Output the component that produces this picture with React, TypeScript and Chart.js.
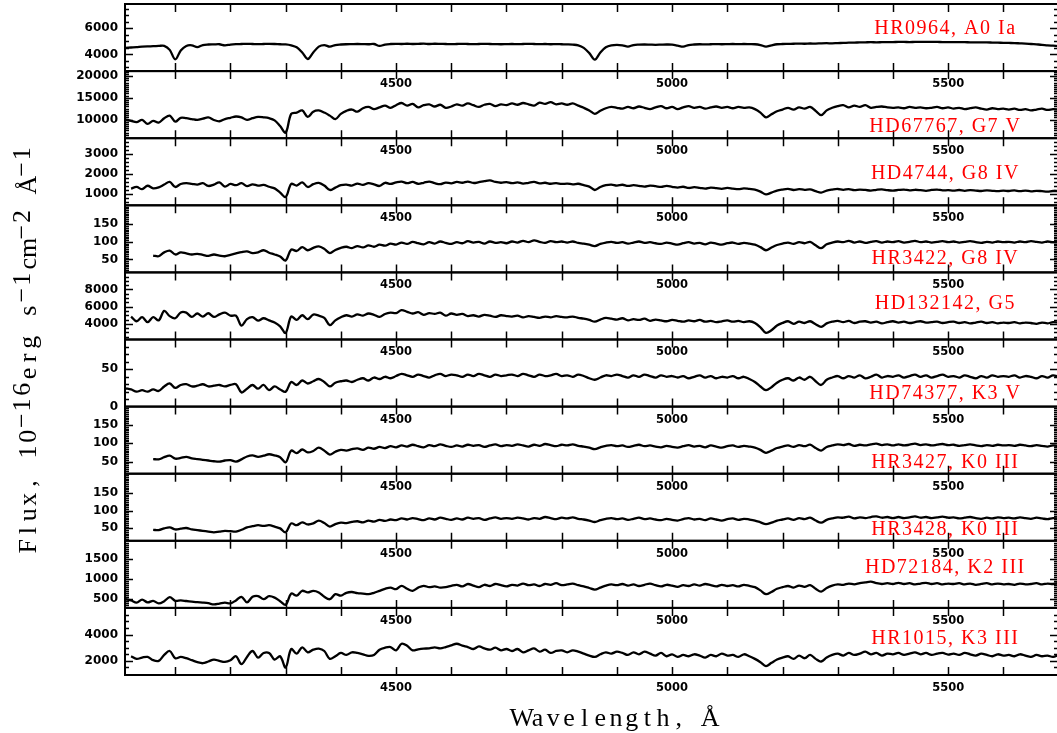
import { useEffect, useRef } from "react";
import { Chart, registerables } from "chart.js";

Chart.register(...registerables);

// Wavelength grid (Å)
const wavelengths = [
  4010, 4020, 4030, 4040, 4050, 4060, 4070, 4080, 4090, 4100,
  4110, 4120, 4130, 4140, 4150, 4160, 4170, 4180, 4190, 4200,
  4210, 4220, 4230, 4240, 4250, 4260, 4270, 4280, 4290, 4300,
  4310, 4320, 4330, 4340, 4350, 4360, 4370, 4380, 4390, 4400,
  4410, 4420, 4430, 4440, 4450, 4460, 4470, 4480, 4490, 4500,
  4510, 4520, 4530, 4540, 4550, 4560, 4570, 4580, 4590, 4600,
  4610, 4620, 4630, 4640, 4650, 4660, 4670, 4680, 4690, 4700,
  4710, 4720, 4730, 4740, 4750, 4760, 4770, 4780, 4790, 4800,
  4810, 4820, 4830, 4840, 4850, 4860, 4870, 4880, 4890, 4900,
  4910, 4920, 4930, 4940, 4950, 4960, 4970, 4980, 4990, 5000,
  5010, 5020, 5030, 5040, 5050, 5060, 5070, 5080, 5090, 5100,
  5110, 5120, 5130, 5140, 5150, 5160, 5170, 5180, 5190, 5200,
  5210, 5220, 5230, 5240, 5250, 5260, 5270, 5280, 5290, 5300,
  5310, 5320, 5330, 5340, 5350, 5360, 5370, 5380, 5390, 5400,
  5410, 5420, 5430, 5440, 5450, 5460, 5470, 5480, 5490, 5500,
  5510, 5520, 5530, 5540, 5550, 5560, 5570, 5580, 5590, 5600,
  5610, 5620, 5630, 5640, 5650, 5660, 5670, 5680, 5690, 5700,
];

const hr0964 = [
  4500, 4530, 4560, 4600, 4620, 4630, 4650, 4660, 4350, 3620,
  4300, 4650, 4700, 4560, 4720, 4760, 4770, 4780, 4700, 4760,
  4790, 4800, 4810, 4800, 4790, 4800, 4810, 4800, 4780, 4770,
  4700, 4550, 4150, 3650, 4150, 4600, 4720, 4600, 4720, 4760,
  4780, 4790, 4800, 4790, 4780, 4800, 4650, 4760, 4800, 4810,
  4800, 4820, 4800, 4810, 4830, 4800, 4820, 4810, 4800, 4790,
  4800, 4810, 4800, 4790, 4800, 4810, 4800, 4790, 4780, 4790,
  4800, 4790, 4800, 4810, 4800, 4790, 4800, 4780, 4790, 4780,
  4770, 4750, 4700, 4500, 4100, 3600, 4150, 4550, 4700, 4740,
  4700, 4600, 4720, 4750, 4760, 4750, 4740, 4750, 4760, 4750,
  4680, 4600, 4720, 4760, 4780, 4770, 4780, 4790, 4780, 4790,
  4800, 4790, 4800, 4790, 4780, 4720, 4600, 4700, 4780, 4800,
  4810, 4820, 4830, 4820, 4840, 4830, 4850, 4860, 4850, 4870,
  4880, 4900, 4910, 4920, 4930, 4940, 4930, 4940, 4950, 4950,
  4960, 4960, 4950, 4960, 4960, 4970, 4960, 4960, 4950, 4950,
  4950, 4940, 4940, 4930, 4930, 4920, 4920, 4910, 4900, 4890,
  4880, 4870, 4850, 4830, 4800, 4770, 4740, 4700, 4670, 4640,
];

const hd67767 = [
  10000, 9700, 9400, 9900, 9000, 9700, 9300, 10300, 10900, 9500,
  10400, 10300, 10100, 9900, 10200, 10500, 9900, 9600, 10100, 10400,
  10700, 10500, 9900, 10300, 10600, 10500, 10300, 9800, 8500, 7000,
  11300, 11600, 12100, 10600, 11800, 12100, 11600, 10900, 10100, 11300,
  12000, 12300, 11800, 12600, 12900, 12400, 12800, 13200, 12700, 13300,
  13800, 13200, 13600, 12800, 13300, 13500, 13000, 13400, 12700, 13000,
  13500, 13200, 13700, 13300, 12900, 13400, 13600, 13100, 13500, 13300,
  13700, 13400, 13800, 13500, 13200, 13900, 13600, 14000, 13500, 13700,
  13400, 13700, 13200, 12700, 12100, 11300, 12000, 12600, 12900, 12700,
  12500, 12900, 12600, 13000, 12700, 12400, 12800, 13100, 12600, 12900,
  12400, 12800, 13100, 12700, 12900, 12500, 12800, 13000, 12700, 12900,
  12600, 12900, 12700, 12800, 12400, 11600, 10500, 11200, 11900, 12300,
  12700, 12300, 12800, 12500, 12900, 12000, 11000, 12100, 12700, 13100,
  13300, 12800, 13200, 12900, 13300, 12700, 12900, 13000, 12800, 12700,
  12800, 12600, 12900, 12700, 12800, 12600, 12700, 12900, 12600, 12800,
  12500, 12700, 12400, 12600, 12800, 12500, 12300, 12600, 12400, 12500,
  12300, 12500, 12200, 12400, 12100, 12300, 12500, 12200, 12400, 12300,
];

const hd4744 = [
  null, 1250, 1330, 1220, 1390, 1260, 1310, 1450, 1580, 1330,
  1480, 1520, 1490, 1450, 1520, 1380, 1450, 1560, 1350, 1480,
  1420, 1520, 1370, 1460, 1400, 1430, 1340, 1260, 1050, 830,
  1480, 1400, 1560, 1330, 1470, 1530, 1400, 1180, 1300, 1420,
  1450, 1400, 1500, 1430, 1520, 1460, 1380, 1540, 1480, 1560,
  1600, 1520, 1580, 1490, 1540, 1600, 1520, 1470, 1550, 1510,
  1580, 1540, 1600, 1530, 1570, 1620, 1660, 1580, 1540, 1570,
  1520, 1560, 1500, 1540, 1580, 1510, 1540, 1490, 1520, 1480,
  1500, 1460, 1490, 1420, 1350, 1180, 1330, 1420, 1450, 1400,
  1440, 1380, 1420, 1390, 1350, 1400, 1370, 1330, 1380, 1340,
  1300, 1340, 1280, 1320, 1290, 1250, 1300, 1270, 1240, 1280,
  1250, 1220, 1260, 1230, 1200, 1100, 960, 1050, 1150, 1200,
  1230, 1180, 1220, 1190, 1210, 1120, 1050, 1150, 1200, 1230,
  1190, 1220, 1170, 1200, 1180, 1150, 1190, 1210, 1170, 1150,
  1180, 1200, 1160, 1190, 1170, 1140, 1180, 1200, 1160, 1170,
  1150, 1180, 1140, 1170, 1150, 1130, 1160, 1140, 1120, 1150,
  1130, 1160, 1120, 1150, 1110, 1140, 1120, 1100, 1130, 1110,
];

const hr3422 = [
  null, null, null, null, null, 61, 59, 70, 75, 64,
  70, 67, 64, 66, 63, 60, 64, 61, 59, 63,
  67, 71, 73, 68, 70, 76, 69, 64, 58, 47,
  78, 74, 85, 76, 83, 87, 80, 68, 77, 83,
  86, 82, 88, 84, 90, 86, 92, 89, 95, 92,
  98, 94, 100, 96, 93, 99, 95, 101, 97, 94,
  99, 96, 102, 98, 100, 95, 101, 97, 99, 96,
  101, 98, 103, 99, 104, 100, 97, 102, 99, 101,
  98, 101, 97, 95, 92, 88, 94, 98, 100, 97,
  99, 95, 98, 101, 97, 99, 96, 94, 98, 95,
  92, 96, 99, 95, 97, 93, 98, 95, 92, 96,
  98, 94, 97, 95, 92, 85, 76, 84, 91, 95,
  98, 94, 99, 96, 100, 90, 82, 93, 98, 101,
  99, 103, 98, 101, 97, 100, 102, 98, 101, 99,
  102, 98, 100, 103, 99, 101, 98, 100, 102, 99,
  101, 98, 100, 102, 99, 97, 100, 98, 101, 99,
  100, 98, 101, 99, 102, 100, 98, 101, 99, 100,
];

const hd132142 = [
  null, 4850, 4300, 4770, 4190, 4770, 4400, 5500, 4900, 4650,
  5330, 5300, 4800, 5200, 4850, 5230, 4800, 5100, 5300, 4950,
  4950, 3800, 4540, 4770, 4380, 4650, 4400, 4150, 3700, 2950,
  4850, 4460, 5000, 4550, 5080, 4950, 4700, 3850, 4400, 4770,
  5000, 4850, 5100, 4950, 5200, 5050, 4800, 5150, 5300, 5250,
  5600, 5400, 5200, 5350, 5050, 5250, 5150, 5300, 4950, 5200,
  5050, 5150, 4900, 5000, 4850, 5050, 4950, 4800, 5000, 4900,
  4850, 4950, 4750, 4900, 4800, 4700, 4850, 4750, 4900, 4800,
  4750, 4850, 4700, 4600, 4450, 4250, 4500, 4700, 4600, 4500,
  4650, 4400, 4550, 4450, 4600, 4350, 4500, 4400, 4300, 4450,
  4350, 4250, 4400, 4300, 4450, 4250, 4350, 4200, 4300, 4400,
  4250, 4350, 4200, 4300, 4100, 3600, 2950, 3250, 3800, 4100,
  4300, 4000, 4250, 4100, 4300, 3950, 3650, 4050, 4250, 4350,
  4200, 4350, 4100, 4250, 4300, 4150, 4250, 4050, 4200, 4300,
  4150, 4250, 4100, 4200, 4300, 4150, 4200, 4250, 4100, 4200,
  4250, 4100, 4200, 4050, 4150, 4250, 4100, 4200, 4050, 4150,
  4100, 4200, 4050, 4150, 4100, 4000, 4150, 4050, 4200, 4150,
];

const hd74377 = [
  24.6, 23, 20, 22, 20, 23, 21, 27, 31, 25,
  29, 30, 27, 28, 30, 27, 28, 29, 27, 29,
  30, 19, 24, 29, 24, 29, 22, 27, 23, 20,
  33, 29, 35, 31, 34, 37, 33, 27, 32, 34,
  35, 33, 36, 38, 35, 39, 37, 40, 38, 41,
  44, 42, 40, 43, 41, 39, 42, 44, 41, 43,
  42, 40, 43, 41, 44, 42, 40, 43, 41, 42,
  43, 41, 44, 42, 40, 43, 41, 42, 44, 41,
  42, 40, 43, 41, 38, 36, 39, 42, 41, 43,
  41, 39, 42, 40, 43, 41, 39, 42, 40, 41,
  39, 41, 38, 40, 42, 39, 41, 38, 40, 39,
  41, 38, 40, 37, 33, 27, 22, 26, 32, 36,
  38, 35, 39, 36, 40, 34, 29, 36, 39, 41,
  38, 41, 39, 42, 38, 40, 43, 39, 41, 40,
  42, 39, 41, 43, 40, 42, 39, 41, 43, 40,
  41, 39, 42, 40, 38, 41, 39, 42, 40, 41,
  40, 42, 39, 41, 40, 38, 41, 39, 42, 40,
];

const hr3427 = [
  null, null, null, null, null, 57, 56, 62, 66, 58,
  60, 63, 59, 57, 55, 53, 51, 50, 53, 54,
  50, 56, 64, 67, 63, 66, 70, 67, 62, 48,
  80, 73, 83, 75, 79, 88, 80, 69, 77, 82,
  80, 84, 86, 82, 88, 85, 90, 87, 92, 89,
  94, 91, 96, 92, 89, 95, 92, 97, 93, 90,
  94, 91, 96, 93, 95, 90, 94, 97, 92, 95,
  93, 97, 94, 91, 96, 93, 98, 95, 92, 96,
  94, 97, 93, 91, 88, 84, 89, 93, 95, 92,
  94, 90, 93, 96, 92, 94, 91, 89, 93, 90,
  88, 92, 95, 91, 93, 89, 94, 91, 88, 92,
  94, 90, 93, 91, 88, 82, 74, 80, 87, 91,
  94, 90, 95, 92, 96, 87, 80, 90, 94, 97,
  95, 98, 93, 96, 94, 97, 99, 95, 97, 94,
  97, 94, 96, 99, 95, 97, 94, 96, 98, 95,
  96, 93, 95, 97, 94, 92, 95, 93, 96, 94,
  95, 93, 96, 94, 92, 95, 93, 91, 94, 92,
];

const hr3428 = [
  null, null, null, null, null, 46, 45, 50, 53, 47,
  49, 51, 47, 45, 43, 41, 39, 41, 43, 42,
  41, 46, 53, 56, 59, 57, 59, 55, 50, 39,
  64, 59, 67, 61, 64, 72, 65, 55, 62, 66,
  65, 68, 70, 67, 72, 69, 74, 71, 75, 73,
  78, 75, 79, 76, 73, 78, 75, 80, 77, 74,
  78, 75, 80, 77, 79, 74, 78, 81, 77, 79,
  77, 80, 78, 75, 79, 77, 82, 79, 76, 80,
  78, 81, 77, 75, 72, 68, 73, 77, 79, 76,
  78, 74, 77, 80, 76, 78, 75, 73, 77, 74,
  72, 76, 79, 75, 77, 73, 78, 75, 72, 76,
  78, 74, 77, 75, 72, 67, 62, 66, 72, 75,
  78, 74, 79, 76, 80, 72, 66, 74, 78, 81,
  80, 83, 78, 81, 79, 82, 84, 80, 82, 79,
  82, 79, 81, 84, 80, 82, 79, 81, 83, 80,
  81, 78, 80, 82, 79, 77, 80, 78, 81, 79,
  80, 78, 81, 79, 77, 80, 78, 76, 79, 77,
];

const hd72184 = [
  500, 470, 415, 490, 420, 460, 395, 450, 550, 460,
  470, 455, 440, 425, 415, 400, 370, 390, 415, 395,
  470, 560, 420, 560, 580, 500, 575, 540, 450, 360,
  640, 590, 710, 670, 710, 670, 560, 500, 625, 590,
  660, 680, 650, 640, 625, 660, 710, 760, 790, 750,
  835, 760, 710, 790, 835, 800, 820, 790, 800, 835,
  860, 820, 880, 840, 800, 860, 830, 880, 850, 820,
  860, 840, 890, 850, 870, 830, 880, 860, 900, 850,
  870, 890, 850, 820, 780, 740, 790, 840, 870, 850,
  880, 840, 870, 830, 860, 890, 850, 820, 860, 840,
  810, 850, 830, 870, 840, 880, 850, 820, 860, 830,
  850, 820, 860, 830, 800, 720, 625, 680, 760, 800,
  830, 790, 840, 810, 850, 760, 690, 780, 840, 870,
  860, 890, 870, 900, 920, 940, 900, 880, 900, 880,
  910, 880, 900, 870, 890, 910, 880, 900, 870, 890,
  880, 900, 870, 890, 860, 880, 900, 870, 890, 870,
  880, 860, 890, 870, 880, 900, 870, 890, 880, 900,
];

const hr1015 = [
  null, 2350, 2150, 2250, 2300, 2050, 2000, 2450, 2750, 2200,
  2300, 2200, 2050, 1900, 1820, 1950, 2100, 2000, 1920, 2050,
  2350, 1750, 2300, 2750, 2250, 2600, 2600, 2100, 2350, 1500,
  2900, 2550, 3030, 2650, 2850, 2930, 2750, 2150, 2350, 2600,
  2450, 2650, 2600, 2500, 2380, 2450, 2850, 3000, 3050, 2800,
  3300, 3150, 2800, 2880, 2930, 2950, 3030, 2950, 3050, 3180,
  3300, 3150, 3050, 2900, 3100, 2950, 2850, 3000, 2800, 2900,
  2750, 2900, 2650, 2800, 2950, 2700, 2850, 2600, 2750, 2800,
  2650, 2800, 2700, 2550, 2400, 2300, 2500, 2650, 2550, 2700,
  2600, 2450, 2650, 2500, 2700, 2550, 2400, 2600, 2350, 2500,
  2300, 2450, 2350, 2500, 2400, 2250, 2450, 2350, 2550, 2400,
  2450, 2300, 2500, 2350, 2150, 1900, 1600, 1850, 2100, 2250,
  2350, 2150, 2400, 2200, 2450, 2150, 1950, 2250, 2450, 2550,
  2400, 2600, 2450, 2550, 2700, 2500, 2600, 2400, 2550, 2500,
  2600, 2450, 2550, 2650, 2500, 2600, 2450, 2550, 2600, 2480,
  2550, 2450, 2600, 2500, 2400, 2550, 2450, 2350, 2500, 2400,
  2450, 2350, 2500, 2400, 2300, 2450, 2350, 2400, 2300, 2450,
];

const spectra = [hr0964, hd67767, hd4744, hr3422, hd132142, hd74377, hr3427, hr3428, hd72184, hr1015];
const starNames = [
  "HR0964, A0 Ia",
  "HD67767, G7 V",
  "HD4744, G8 IV",
  "HR3422, G8 IV",
  "HD132142, G5",
  "HD74377, K3 V",
  "HR3427, K0 III",
  "HR3428, K0 III",
  "HD72184, K2 III",
  "HR1015, K3 III",
];
const yMins = [2720, 5700, 415, 13, 2180, 0, 17, 15, 283, 925];
const yMaxs = [7870, 21150, 3765, 204, 9980, 90, 200, 204, 1958, 6025];
const yTickLabels = [
  [4000, 6000],
  [10000, 15000, 20000],
  [1000, 2000, 3000],
  [50, 100, 150],
  [4000, 6000, 8000],
  [0, 50],
  [50, 100, 150],
  [50, 100, 150],
  [500, 1000, 1500],
  [2000, 4000],
];
const yMinorSteps = [500, 500, 200, 5, 500, 10, 5, 5, 50, 500];
// vertical anchor of each star label, in the panel's flux units
const starLabelY = [5560, 7150, 1750, 36, 5775, 10.3, 33.6, 32, 1158, 3305];
const starLabelX = 5495;
const xMin = 4009;
const xMax = 5699;
const xTickValues = [4100, 4200, 4300, 4400, 4500, 4600, 4700, 4800, 4900, 5000, 5100, 5200, 5300, 5400, 5500, 5600];
const xTickLabels = [4500, 5000, 5500];

const xTitle = "Wavelength, Å";
const yTitleParts: [string, boolean][] = [
  ["Flux, 10", false],
  ["−16", true],
  ["erg s", false],
  ["−1", true],
  ["cm", false],
  ["−2", true],
  [" Å", false],
  ["−1", true],
];

const N = spectra.length;
const CELL = 15.7;

const decor = {
  id: "decor",
  afterDatasetsDraw(chart: any) {
    const ctx: CanvasRenderingContext2D = chart.ctx;
    const xs = chart.scales.x;
    const { left, right } = chart.chartArea;
    ctx.save();
    ctx.strokeStyle = "#000";
    ctx.fillStyle = "#000";
    for (let i = 0; i < N; i++) {
      const ys = chart.scales["y" + i];
      const top = ys.top;
      const bottom = ys.bottom;
      ctx.lineWidth = 2;
      ctx.strokeRect(left, top, right - left, bottom - top);
      ctx.lineWidth = 1.5;
      ctx.beginPath();
      for (const v of xTickValues) {
        const px = Math.round(xs.getPixelForValue(v)) + 0.5;
        ctx.moveTo(px, top);
        ctx.lineTo(px, top + 8);
        ctx.moveTo(px, bottom);
        ctx.lineTo(px, bottom - 8);
      }
      const step = yMinorSteps[i];
      for (let v = Math.ceil(yMins[i] / step) * step; v <= yMaxs[i]; v += step) {
        const py = Math.round(ys.getPixelForValue(v)) + 0.5;
        if (py < top + 1 || py > bottom - 1) continue;
        ctx.moveTo(left, py);
        ctx.lineTo(left + 4, py);
        ctx.moveTo(right, py);
        ctx.lineTo(right - 4, py);
      }
      for (const v of yTickLabels[i]) {
        const py = Math.round(ys.getPixelForValue(v)) + 0.5;
        if (py < top + 1 || py > bottom - 1) continue;
        ctx.moveTo(left, py);
        ctx.lineTo(left + 8, py);
        ctx.moveTo(right, py);
        ctx.lineTo(right - 8, py);
      }
      ctx.stroke();

      ctx.font = 'bold 12px "DejaVu Sans"';
      ctx.textAlign = "right";
      ctx.textBaseline = "middle";
      for (const v of yTickLabels[i]) {
        ctx.fillText(String(v), left - 7, ys.getPixelForValue(v));
      }
      ctx.font = 'bold 11.5px "DejaVu Sans"';
      ctx.textAlign = "center";
      for (const v of xTickLabels) {
        ctx.fillText(String(v), xs.getPixelForValue(v), bottom + 13);
      }
      ctx.save();
      ctx.fillStyle = "#ff0000";
      ctx.font = '20px "Liberation Serif"';
      (ctx as any).letterSpacing = "1.5px";
      ctx.textAlign = "center";
      ctx.textBaseline = "alphabetic";
      ctx.fillText(starNames[i], xs.getPixelForValue(starLabelX), ys.getPixelForValue(starLabelY[i]));
      ctx.restore();
    }

    ctx.font = '26px "Liberation Serif"';
    ctx.textAlign = "center";
    ctx.textBaseline = "alphabetic";
    const xChars = Array.from(xTitle);
    const xStart = 616 - (xChars.length * CELL) / 2;
    xChars.forEach((ch, k) => ctx.fillText(ch, xStart + (k + 0.5) * CELL, 726));

    ctx.save();
    ctx.translate(27, 350);
    ctx.rotate(-Math.PI / 2);
    let total = 0;
    for (const [t] of yTitleParts) total += Array.from(t).length;
    let pos = -(total * CELL) / 2;
    for (const [t, sup] of yTitleParts) {
      for (const ch of Array.from(t)) {
        ctx.fillText(ch, pos + CELL / 2, sup ? 3 : 9);
        pos += CELL;
      }
    }
    ctx.restore();
    ctx.restore();
  },
};

export default function App() {
  const ref = useRef<HTMLCanvasElement>(null);
  useEffect(() => {
    const canvas = ref.current;
    if (!canvas) return;
    const scales: any = {
      x: { type: "linear", min: xMin, max: xMax, display: false },
    };
    for (let i = 0; i < N; i++) {
      scales["y" + i] = {
        type: "linear",
        position: "left",
        stack: "spectra",
        stackWeight: 1,
        weight: N - i,
        min: yMins[i],
        max: yMaxs[i],
        display: false,
      };
    }
    const datasets = spectra.map((vals, i) => ({
      label: starNames[i],
      data: wavelengths.map((w, k) => ({ x: w, y: vals[k] })),
      xAxisID: "x",
      yAxisID: "y" + i,
      borderColor: "#000",
      borderWidth: 2.3,
      pointRadius: 0,
      tension: 0.35,
      fill: false,
      spanGaps: false,
    }));
    const chart = new Chart(canvas, {
      type: "line",
      data: { datasets },
      options: {
        responsive: false,
        devicePixelRatio: 1,
        animation: false,
        events: [],
        layout: { padding: { left: 125, right: 2, top: 4, bottom: 58 } },
        scales,
        plugins: { legend: { display: false }, tooltip: { enabled: false } },
      },
      plugins: [decor],
    } as any);
    return () => chart.destroy();
  }, []);
  return (
    <div style={{ position: "fixed", left: 0, top: 0, width: 1060, height: 733, background: "#fff", overflow: "hidden" }}>
      <canvas ref={ref} width={1060} height={733} style={{ width: 1060, height: 733, display: "block" }} />
    </div>
  );
}
